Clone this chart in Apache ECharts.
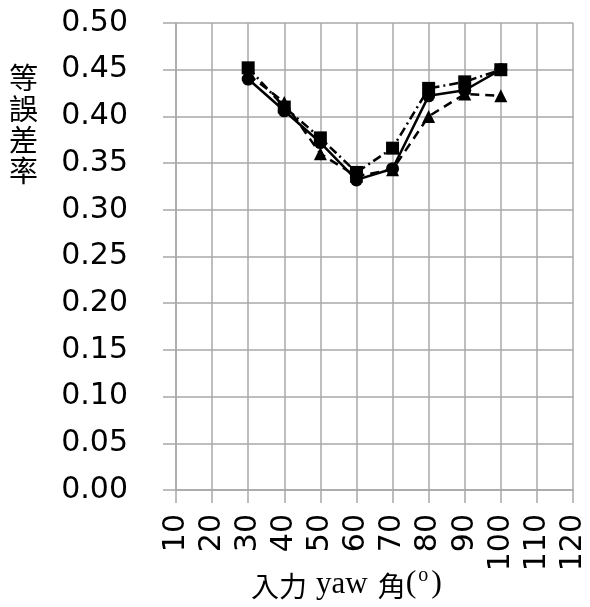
<!DOCTYPE html>
<html>
<head>
<meta charset="utf-8">
<script src="https://cdn.jsdelivr.net/npm/echarts@6/dist/echarts.min.js"></script>
<style>
  html, body { margin: 0; padding: 0; background: #fff; }
  #chart { width: 590px; height: 607px; }
</style>
</head>
<body>
<div id="chart"></div>
<script>
// Input yaw angle (degrees) at which each condition was measured
const yawAngles = [30, 40, 50, 60, 70, 80, 90, 100];
// Equal error rate per condition
const eerCircle   = [0.440, 0.406, 0.372, 0.332, 0.344, 0.422, 0.428, 0.450];
const eerTriangle = [0.445, 0.415, 0.360, 0.336, 0.343, 0.400, 0.424, 0.422];
const eerSquare   = [0.452, 0.410, 0.377, 0.340, 0.366, 0.430, 0.437, 0.450];
// Axis ranges / tick steps
const xTicks = { min: 10, max: 120, step: 10 };
const yTicks = { min: 0, max: 0.5, step: 0.05 };

const pairs = ys => yawAngles.map((x, i) => [x, ys[i]]);
const gridColor = '#a8a8a8';

const chart = echarts.init(document.getElementById('chart'), null, { renderer: 'canvas' });

function lineSeries(name, ys, symbol, size, dash) {
  return {
    name, type: 'line', data: pairs(ys),
    symbol, symbolSize: size,
    itemStyle: { color: '#000' },
    lineStyle: { color: '#000', width: 2.5, type: dash },
    z: 3
  };
}

chart.setOption({
  animation: false,
  backgroundColor: '#fff',
  grid: { left: 176, right: 17, top: 23, bottom: 117, containLabel: false },
  xAxis: {
    type: 'value', min: xTicks.min, max: xTicks.max, interval: xTicks.step,
    axisLine: { show: true, lineStyle: { color: gridColor, width: 1.5 } },
    axisTick: { show: true, length: 13, lineStyle: { color: gridColor, width: 1.5 } },
    splitLine: { show: true, lineStyle: { color: gridColor, width: 1.5 } },
    axisLabel: {
      rotate: 90, margin: 24, color: '#000',
      fontFamily: 'DejaVu Sans', fontSize: 30,
      showMinLabel: true, showMaxLabel: true
    }
  },
  yAxis: {
    type: 'value', min: yTicks.min, max: yTicks.max, interval: yTicks.step,
    axisLine: { show: true, lineStyle: { color: gridColor, width: 1.5 } },
    axisTick: { show: true, length: 13, lineStyle: { color: gridColor, width: 1.5 } },
    splitLine: { show: true, lineStyle: { color: gridColor, width: 1.5 } },
    axisLabel: {
      margin: 48, color: '#000',
      fontFamily: 'DejaVu Sans', fontSize: 30,
      formatter: v => v.toFixed(2)
    }
  },
  series: [
    lineSeries('circle', eerCircle, 'circle', 13, 'solid'),
    lineSeries('triangle', eerTriangle, 'triangle', 13, [9, 6]),
    lineSeries('square', eerSquare, 'rect', 13, [9, 4, 2, 4])
  ],
  graphic: [
    {
      type: 'text', left: 9, top: 62,
      style: {
        text: '等\n誤\n差\n率',
        font: '29px "Noto Sans CJK TC"',
        lineHeight: 31, fill: '#000'
      }
    },
    {
      type: 'text', left: 251, top: 566,
      style: {
        text: '{a|入力}{b|yaw}{a|角}{p|(}{s|o}{p|)}',
        rich: {
          a: { font: '28px "Noto Sans CJK TC"', fill: '#000', verticalAlign: 'bottom' },
          b: { font: '31px "Liberation Serif"', fill: '#000', verticalAlign: 'bottom', padding: [0, 10, 0, 9] },
          p: { font: '32px "Liberation Serif"', fill: '#000', verticalAlign: 'bottom' },
          s: { font: '20px "Liberation Serif"', fill: '#000', verticalAlign: 'top', padding: [0, 3, 14, 2] }
        }
      }
    }
  ]
});
</script>
</body>
</html>
